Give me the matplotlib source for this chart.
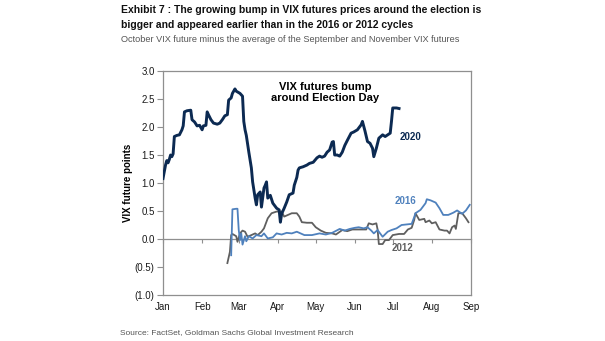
import matplotlib
matplotlib.use("Agg")
import matplotlib.pyplot as plt
import matplotlib.dates as mdates
from matplotlib.ticker import FuncFormatter, MultipleLocator, NullFormatter
import numpy as np
import pandas as pd

# days since 1 Jan 2020 and spread values (VIX points)
days_2020 = [0, 2, 3, 4, 5, 6, 7, 8, 9, 11, 13, 15, 16, 17, 19, 22, 23, 25, 27, 29,
             31, 32, 34, 35, 36, 38, 40, 43, 45, 47, 49, 51, 52, 54, 55, 57, 58, 61, 63, 64,
             65, 66, 68, 70, 71, 73, 74, 75, 77, 78, 80, 81, 82, 83, 85, 87, 90, 92, 93, 94,
             96, 98, 100, 103, 104, 106, 107, 108, 111, 114, 116, 119, 122, 124, 126, 128, 130, 132, 134, 135,
             136, 138, 140, 142, 144, 146, 149, 151, 154, 157, 158, 160, 162, 164, 166, 167, 169, 171, 174, 176,
             178, 180, 181, 182, 185, 187]
vals_2020 = [1.08, 1.32, 1.40, 1.36, 1.42, 1.50, 1.47, 1.52, 1.83, 1.85, 1.86, 1.95, 2.02, 2.27, 2.29, 2.30, 2.13, 2.09, 2.02, 2.03,
             1.95, 2.02, 2.03, 2.27, 2.22, 2.13, 2.07, 2.05, 2.07, 2.13, 2.20, 2.22, 2.48, 2.52, 2.60, 2.68, 2.64, 2.60, 2.55, 2.10,
             1.95, 1.85, 1.55, 1.27, 1.02, 0.73, 0.61, 0.79, 0.84, 0.57, 0.91, 0.96, 1.02, 0.73, 0.78, 0.64, 0.55, 0.52, 0.30, 0.45,
             0.55, 0.66, 0.79, 0.82, 0.96, 1.10, 1.23, 1.27, 1.29, 1.32, 1.35, 1.37, 1.45, 1.48, 1.46, 1.48, 1.55, 1.59, 1.73, 1.74,
             1.50, 1.50, 1.48, 1.55, 1.67, 1.76, 1.89, 1.91, 1.95, 2.04, 2.10, 1.93, 1.74, 1.71, 1.62, 1.47, 1.62, 1.80, 1.86, 1.83,
             1.86, 1.89, 2.10, 2.34, 2.34, 2.33]

days_2016 = [54, 55, 58, 59, 60, 61, 62, 63, 65, 66, 68, 71, 74, 78, 80, 83, 87, 90, 94, 98,
             102, 106, 108, 112, 118, 124, 129, 134, 140, 144, 148, 152, 155, 159, 162, 165, 167, 170, 173, 174,
             178, 181, 185, 189, 193, 197, 199, 200, 204, 208, 209, 212, 216, 219, 222, 226, 230, 233, 237, 240,
             243]
vals_2016 = [-0.29, 0.53, 0.54, 0.54, 0.16, -0.02, 0.10, -0.10, 0.05, -0.04, 0.05, 0.01, 0.07, 0.05, 0.10, 0.01, 0.03, 0.10, 0.08, 0.11,
             0.10, 0.13, 0.11, 0.07, 0.07, 0.10, 0.08, 0.11, 0.18, 0.15, 0.18, 0.20, 0.21, 0.19, 0.21, 0.15, 0.10, 0.16, 0.07, 0.04,
             0.13, 0.16, 0.19, 0.25, 0.26, 0.27, 0.39, 0.46, 0.52, 0.64, 0.71, 0.69, 0.65, 0.55, 0.43, 0.43, 0.47, 0.51, 0.45, 0.51,
             0.61]

days_2012 = [51, 53, 54, 55, 58, 59, 61, 63, 65, 67, 70, 73, 75, 78, 80, 83, 86, 90, 94, 96,
             99, 102, 106, 108, 110, 114, 118, 121, 125, 129, 134, 137, 142, 146, 150, 157, 161, 163, 166, 169,
             170, 171, 174, 176, 179, 182, 187, 191, 194, 197, 199, 200, 203, 207, 208, 211, 213, 216, 219, 223,
             225, 227, 229, 231, 232, 234, 237, 240, 242]
vals_2012 = [-0.43, -0.23, 0.07, 0.09, 0.05, -0.05, 0.10, 0.15, 0.13, 0.04, 0.07, 0.10, 0.07, 0.13, 0.19, 0.37, 0.46, 0.49, 0.49, 0.40,
             0.43, 0.46, 0.46, 0.40, 0.30, 0.29, 0.29, 0.21, 0.15, 0.11, 0.10, 0.08, 0.16, 0.14, 0.17, 0.17, 0.17, 0.28, 0.26, 0.28,
             0.17, -0.09, -0.09, -0.02, -0.02, 0.07, 0.09, 0.09, 0.17, 0.20, 0.34, 0.46, 0.34, 0.36, 0.30, 0.33, 0.28, 0.30, 0.17, 0.15,
             0.15, 0.10, 0.21, 0.24, 0.18, 0.46, 0.46, 0.37, 0.30]

start = pd.Timestamp("2020-01-01")


def to_dates(d):
    return start + pd.to_timedelta(d, unit="D")


navy = "#0c2a52"
blue = "#4f81bd"
grey = "#5f5f5f"
frame = "#8f8f8f"
plt.rcParams["font.family"] = ["Liberation Sans", "DejaVu Sans"]

fig = plt.figure(figsize=(6.05, 3.41), dpi=100)
ax = fig.add_axes([163 / 605, 46 / 341, 308 / 605, 224 / 341])

ax.plot(to_dates(days_2012), vals_2012, color=grey, lw=1.3, zorder=3)
ax.plot(to_dates(days_2016), vals_2016, color=blue, lw=1.3, zorder=4)
ax.plot(to_dates(days_2020), vals_2020, color=navy, lw=2.1, zorder=5)

ax.set_xlim(start, pd.Timestamp("2020-09-01"))
ax.set_ylim(-1.0, 3.0)
ax.yaxis.set_major_locator(MultipleLocator(0.5))
ax.yaxis.set_major_formatter(FuncFormatter(lambda v, p: f"({abs(v):.1f})" if v < 0 else f"{v:.1f}"))
ax.xaxis.set_major_locator(mdates.MonthLocator())
ax.xaxis.set_major_formatter(mdates.DateFormatter("%b"))
ax.tick_params(axis="x", length=0, pad=5, labelsize=7, colors="#1a1a1a")
ax.tick_params(axis="y", length=4, width=0.8, color=frame, labelsize=7, labelcolor="#1a1a1a", pad=2)
for s in ax.spines.values():
    s.set_color(frame)
    s.set_linewidth(0.9)

# zero line with month ticks
zero = ax.secondary_xaxis(0.25)
zero.xaxis.set_major_locator(mdates.MonthLocator())
zero.xaxis.set_major_formatter(NullFormatter())
zero.tick_params(length=3, width=0.8, color=frame, direction="out")
zero.spines["bottom"].set_color(frame)
zero.spines["bottom"].set_linewidth(0.9)

ax.set_ylabel("VIX future points", fontsize=7, fontweight="bold", labelpad=1)

ax.text(0.526, 0.905, "VIX futures bump\naround Election Day", transform=ax.transAxes,
        ha="center", va="center", fontsize=8, fontweight="bold", linespacing=1.1)
ax.text(to_dates(196), 1.82, "2020", color=navy, fontsize=7, fontweight="bold", ha="center", va="center")
ax.text(to_dates(192), 0.68, "2016", color=blue, fontsize=7, fontweight="bold", ha="center", va="center")
ax.text(to_dates(190), -0.16, "2012", color=grey, fontsize=7, fontweight="bold", ha="center", va="center")

fig.text(121 / 605, 1 - 10 / 341, "Exhibit 7 : The growing bump in VIX futures prices around the election is",
         fontsize=7.5, fontweight="bold", color="#111111", va="center")
fig.text(121 / 605, 1 - 25 / 341, "bigger and appeared earlier than in the 2016 or 2012 cycles",
         fontsize=7.5, fontweight="bold", color="#111111", va="center")
fig.text(121 / 605, 1 - 40 / 341, "October VIX future minus the average of the September and November VIX futures",
         fontsize=6.6, color="#555555", va="center")
fig.text(120 / 605, 1 - 333 / 341, "Source: FactSet, Goldman Sachs Global Investment Research",
         fontsize=6.0, color="#555555", va="center")

fig.savefig("out.png", dpi=100)
